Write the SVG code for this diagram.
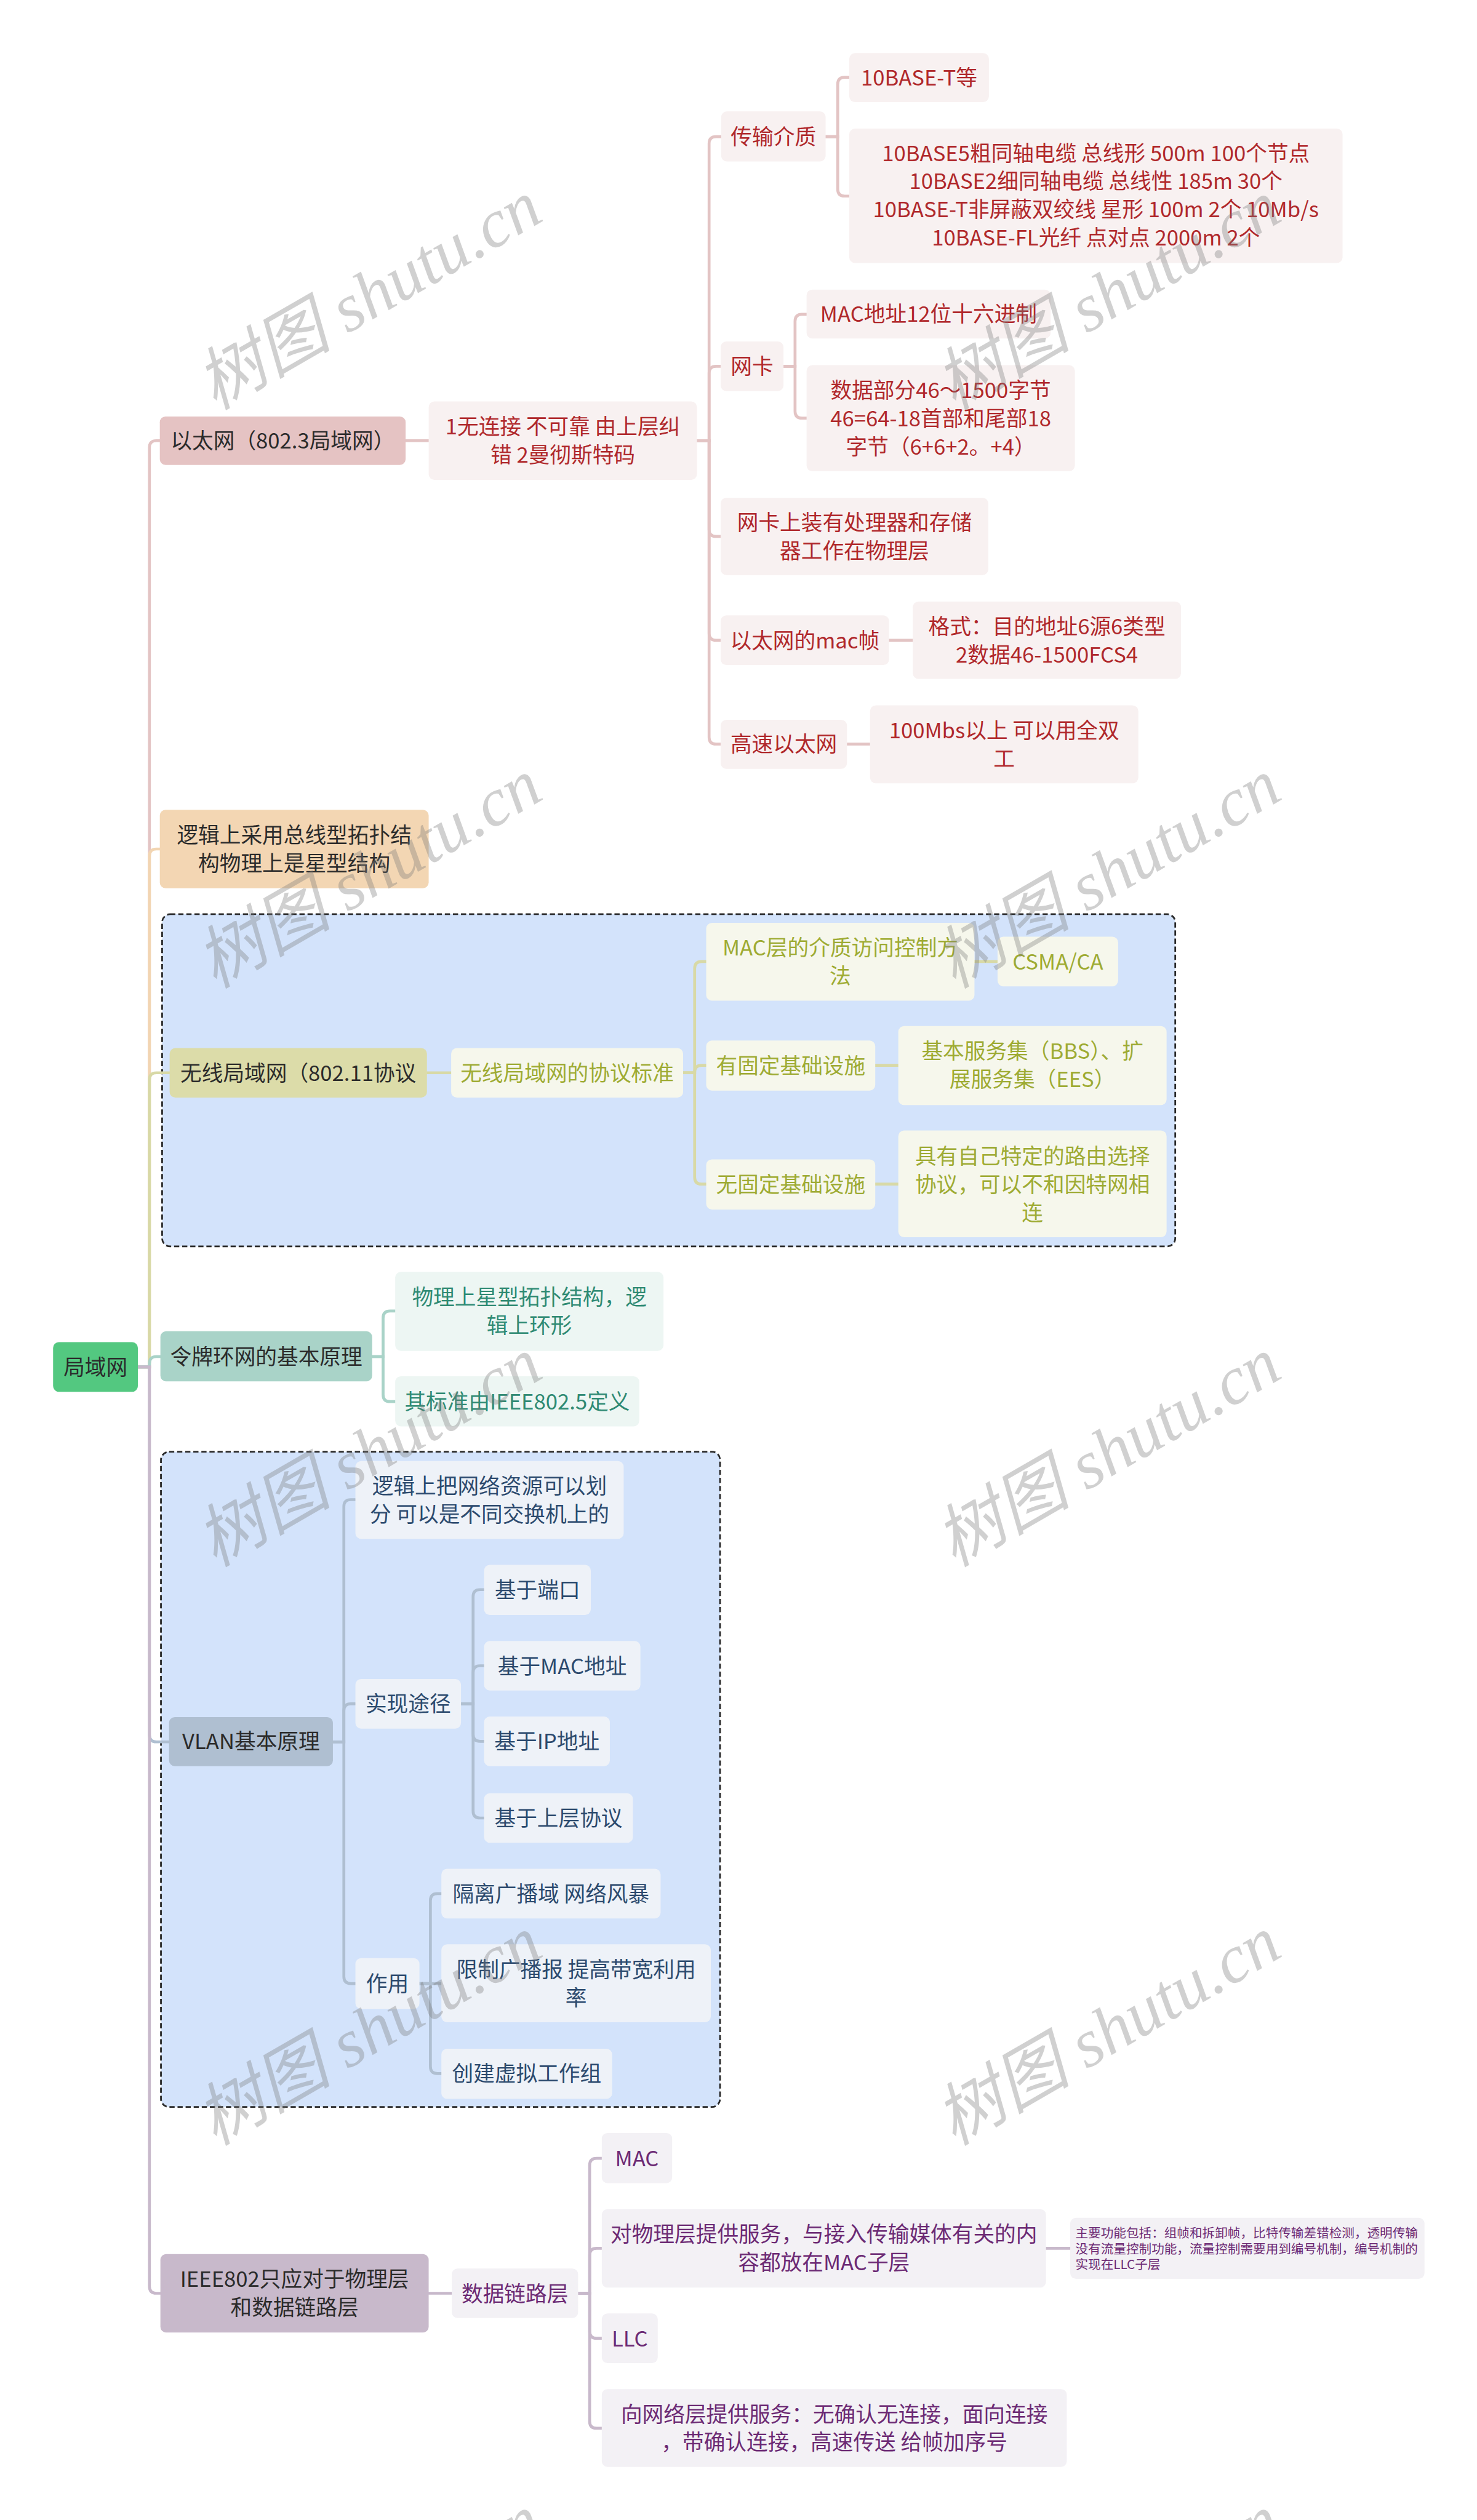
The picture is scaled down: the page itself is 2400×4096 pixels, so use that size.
<svg xmlns="http://www.w3.org/2000/svg" width="2400" height="4096" viewBox="0 0 2400 4096">
<style>
text{font-family:"Noto Sans CJK SC","Noto Sans",sans-serif;font-size:37px;text-anchor:middle}
.c{fill:none;stroke-width:5;stroke-linecap:round}
.l1 text{fill:#2b2b2b}
.eth rect{fill:#f8f1f1}.eth text{fill:#b0282b}
.wl rect{fill:#f6f7ec}.wl text{fill:#9eab33}
.tk rect{fill:#edf6f3}.tk text{fill:#2f8a73}
.vl rect{fill:#eef2f8}.vl text{fill:#2c4a6e}
.ie rect{fill:#f3f1f5}.ie text{fill:#6c2a74}
.dash{fill:#d3e3fb;stroke:#2a2a2a;stroke-width:3;stroke-dasharray:9 5}
.wm{font-family:"Liberation Serif","Noto Sans CJK SC",serif;font-style:italic;font-size:118px;fill:#7a7a7a;opacity:.35}
</style>
<g transform="scale(0.9375)">
<rect x="0" y="0" width="2560" height="4369" fill="#ffffff"/>
<rect class="dash" x="281" y="1585" width="1756" height="576" rx="14"/>
<rect class="dash" x="279" y="2517" width="969" height="1136" rx="14"/>
<g id="connectors">
<path class="c" stroke="#e3c4c4" d="M239 2370H259V776Q259 764 271 764H277"/>
<path class="c" stroke="#f2d5b2" d="M239 2370H259V1484Q259 1472 271 1472H277"/>
<path class="c" stroke="#d8d9a6" d="M239 2370H259V1872Q259 1860 271 1860H294"/>
<path class="c" stroke="#a9d3c8" d="M239 2370H259V2364Q259 2352 271 2352H278"/>
<path class="c" stroke="#afbfd1" d="M239 2370H259V3008Q259 3020 271 3020H293"/>
<path class="c" stroke="#c8b9cb" d="M239 2370H259V3964Q259 3976 271 3976H278"/>
<g stroke="#e3c4c4">
<path class="c" d="M703 764H743"/>
<path class="c" d="M1208 764H1229V249Q1229 237 1241 237H1250"/>
<path class="c" d="M1208 764H1229V647Q1229 635 1241 635H1249"/>
<path class="c" d="M1208 764H1229V918Q1229 930 1241 930H1249"/>
<path class="c" d="M1208 764H1229V1098Q1229 1110 1241 1110H1249"/>
<path class="c" d="M1208 764H1229V1278Q1229 1290 1241 1290H1249"/>
<path class="c" d="M1431 237H1452V146Q1452 134 1464 134H1472"/>
<path class="c" d="M1431 237H1452V328Q1452 340 1464 340H1472"/>
<path class="c" d="M1358 635H1378V557Q1378 545 1390 545H1398"/>
<path class="c" d="M1358 635H1378V713Q1378 725 1390 725H1398"/>
<path class="c" d="M1541 1110H1582"/>
<path class="c" d="M1468 1290H1508"/>
</g>
<g stroke="#d8d9a6">
<path class="c" d="M740 1860H782"/>
<path class="c" d="M1184 1860H1204V1679Q1204 1667 1216 1667H1224"/>
<path class="c" d="M1184 1860H1204V1859Q1204 1847 1216 1847H1224"/>
<path class="c" d="M1184 1860H1204V2041Q1204 2053 1216 2053H1224"/>
<path class="c" d="M1689 1667H1729"/>
<path class="c" d="M1517 1847H1557"/>
<path class="c" d="M1517 2053H1557"/>
</g>
<g stroke="#a9d3c8">
<path class="c" d="M645 2352H664V2285Q664 2273 676 2273H685"/>
<path class="c" d="M645 2352H664V2418Q664 2430 676 2430H685"/>
</g>
<g stroke="#afbfd1">
<path class="c" d="M577 3020H596V2612Q596 2600 608 2600H616"/>
<path class="c" d="M577 3020H596V2966Q596 2954 608 2954H616"/>
<path class="c" d="M577 3020H596V3427Q596 3439 608 3439H616"/>
<path class="c" d="M799 2954H820V2768Q820 2756 832 2756H839"/>
<path class="c" d="M799 2954H820V2900Q820 2888 832 2888H839"/>
<path class="c" d="M799 2954H820V3007Q820 3019 832 3019H839"/>
<path class="c" d="M799 2954H820V3140Q820 3152 832 3152H839"/>
<path class="c" d="M727 3439H746V3295Q746 3283 758 3283H765"/>
<path class="c" d="M727 3439H765"/>
<path class="c" d="M727 3439H746V3583Q746 3595 758 3595H765"/>
</g>
<g stroke="#c8b9cb">
<path class="c" d="M743 3976H783"/>
<path class="c" d="M1002 3976H1022V3754Q1022 3742 1034 3742H1043"/>
<path class="c" d="M1002 3976H1022V3910Q1022 3898 1034 3898H1043"/>
<path class="c" d="M1002 3976H1022V4042Q1022 4054 1034 4054H1043"/>
<path class="c" d="M1002 3976H1022V4198Q1022 4210 1034 4210H1043"/>
<path class="c" d="M1813 3898H1855"/>
</g>
</g>
<g id="root" class="l1"><rect x="92" y="2327" width="147" height="86" rx="10" fill="#53c880"/><text x="165.5" y="2384">局域网</text></g>
<g id="n-eth" class="l1"><rect x="277" y="722" width="426" height="84" rx="10" fill="#e5c3c3"/><text x="490" y="778">以太网（802.3局域网）</text></g>
<g id="n-logic" class="l1"><rect x="277" y="1404" width="466" height="136" rx="10" fill="#f3d6b3"/><text x="510" y="1461">逻辑上采用总线型拓扑结</text><text x="510" y="1510">构物理上是星型结构</text></g>
<g id="n-wl" class="l1"><rect x="294" y="1817" width="446" height="86" rx="10" fill="#dcdca9"/><text x="517" y="1874">无线局域网（802.11协议</text></g>
<g id="n-tk" class="l1"><rect x="278" y="2308" width="367" height="87" rx="10" fill="#a9d3c8"/><text x="461.5" y="2366">令牌环网的基本原理</text></g>
<g id="n-vlan" class="l1"><rect x="293" y="2977" width="284" height="85" rx="10" fill="#afbfd1"/><text x="435" y="3033">VLAN基本原理</text></g>
<g id="n-ieee" class="l1"><rect x="278" y="3908" width="465" height="136" rx="10" fill="#c8b9cb"/><text x="510.5" y="3965">IEEE802只应对于物理层</text><text x="510.5" y="4014">和数据链路层</text></g>
<g class="eth">
<g id="e1"><rect x="743" y="696" width="465" height="136" rx="10"/><text x="975.5" y="753">1无连接 不可靠 由上层纠</text><text x="975.5" y="802">错 2曼彻斯特码</text></g>
<g id="e2"><rect x="1250" y="193" width="181" height="87" rx="10"/><text x="1340.5" y="251">传输介质</text></g>
<g id="e3"><rect x="1472" y="92" width="242" height="85" rx="10"/><text x="1593" y="148">10BASE-T等</text></g>
<g id="e4"><rect x="1472" y="223" width="855" height="233" rx="10"/><text x="1899.5" y="279">10BASE5粗同轴电缆 总线形 500m 100个节点</text><text x="1899.5" y="328">10BASE2细同轴电缆 总线性 185m 30个</text><text x="1899.5" y="377">10BASE-T非屏蔽双绞线 星形 100m 2个 10Mb/s</text><text x="1899.5" y="426">10BASE-FL光纤 点对点 2000m 2个</text></g>
<g id="e5"><rect x="1249" y="592" width="109" height="86" rx="10"/><text x="1303.5" y="649">网卡</text></g>
<g id="e6"><rect x="1398" y="502" width="423" height="85" rx="10"/><text x="1609.5" y="558">MAC地址12位十六进制</text></g>
<g id="e7"><rect x="1398" y="633" width="465" height="184" rx="10"/><text x="1630.5" y="690">数据部分46～1500字节</text><text x="1630.5" y="739"> 46=64-18首部和尾部18</text><text x="1630.5" y="788">字节（6+6+2。+4）</text></g>
<g id="e8"><rect x="1249" y="863" width="464" height="134" rx="10"/><text x="1481" y="920">网卡上装有处理器和存储</text><text x="1481" y="969">器工作在物理层</text></g>
<g id="e9"><rect x="1249" y="1067" width="292" height="86" rx="10"/><text x="1395" y="1124">以太网的mac帧</text></g>
<g id="e10"><rect x="1582" y="1043" width="465" height="134" rx="10"/><text x="1814.5" y="1100">格式：目的地址6源6类型</text><text x="1814.5" y="1149">2数据46-1500FCS4</text></g>
<g id="e11"><rect x="1249" y="1248" width="219" height="85" rx="10"/><text x="1358.5" y="1304">高速以太网</text></g>
<g id="e12"><rect x="1508" y="1223" width="465" height="135" rx="10"/><text x="1740.5" y="1280">100Mbs以上 可以用全双</text><text x="1740.5" y="1329">工</text></g>
</g>
<g class="wl">
<g id="w1"><rect x="782" y="1817" width="402" height="86" rx="10"/><text x="983" y="1874">无线局域网的协议标准</text></g>
<g id="w2"><rect x="1224" y="1600" width="465" height="135" rx="10"/><text x="1456.5" y="1657">MAC层的介质访问控制方</text><text x="1456.5" y="1706">法</text></g>
<g id="w3"><rect x="1729" y="1624" width="209" height="86" rx="10"/><text x="1833.5" y="1681">CSMA/CA</text></g>
<g id="w4"><rect x="1224" y="1804" width="293" height="87" rx="10"/><text x="1370.5" y="1861">有固定基础设施</text></g>
<g id="w5"><rect x="1557" y="1779" width="465" height="137" rx="10"/><text x="1789.5" y="1836">基本服务集（BBS）、扩</text><text x="1789.5" y="1885">展服务集（EES）</text></g>
<g id="w6"><rect x="1224" y="2010" width="293" height="87" rx="10"/><text x="1370.5" y="2067">无固定基础设施</text></g>
<g id="w7"><rect x="1557" y="1960" width="465" height="185" rx="10"/><text x="1789.5" y="2018">具有自己特定的路由选择</text><text x="1789.5" y="2067">协议，可以不和因特网相</text><text x="1789.5" y="2116">连</text></g>
</g>
<g class="tk">
<g id="t1"><rect x="685" y="2205" width="465" height="137" rx="10"/><text x="917.5" y="2262">物理上星型拓扑结构，逻</text><text x="917.5" y="2311">辑上环形</text></g>
<g id="t2"><rect x="685" y="2386" width="423" height="87" rx="10"/><text x="896.5" y="2444">其标准由IEEE802.5定义</text></g>
</g>
<g class="vl">
<g id="v1"><rect x="616" y="2533" width="465" height="135" rx="10"/><text x="848.5" y="2590">逻辑上把网络资源可以划</text><text x="848.5" y="2639">分 可以是不同交换机上的</text></g>
<g id="v2"><rect x="616" y="2911" width="183" height="86" rx="10"/><text x="707.5" y="2968">实现途径</text></g>
<g id="v3"><rect x="839" y="2713" width="185" height="87" rx="10"/><text x="931.5" y="2770">基于端口</text></g>
<g id="v4"><rect x="839" y="2845" width="271" height="86" rx="10"/><text x="974.5" y="2902">基于MAC地址</text></g>
<g id="v5"><rect x="839" y="2976" width="218" height="86" rx="10"/><text x="948" y="3033">基于IP地址</text></g>
<g id="v6"><rect x="839" y="3109" width="258" height="86" rx="10"/><text x="968" y="3166">基于上层协议</text></g>
<g id="v7"><rect x="616" y="3395" width="111" height="88" rx="10"/><text x="671.5" y="3453">作用</text></g>
<g id="v8"><rect x="765" y="3240" width="380" height="86" rx="10"/><text x="955" y="3297">隔离广播域 网络风暴</text></g>
<g id="v9"><rect x="765" y="3371" width="467" height="135" rx="10"/><text x="998.5" y="3428">限制广播报 提高带宽利用</text><text x="998.5" y="3477">率</text></g>
<g id="v10"><rect x="765" y="3552" width="296" height="87" rx="10"/><text x="913" y="3609">创建虚拟工作组</text></g>
</g>
<g class="ie">
<g id="i1"><rect x="783" y="3933" width="219" height="86" rx="10"/><text x="892.5" y="3990">数据链路层</text></g>
<g id="i2"><rect x="1043" y="3698" width="122" height="87" rx="10"/><text x="1104" y="3756">MAC</text></g>
<g id="i3"><rect x="1043" y="3830" width="770" height="136" rx="10"/><text x="1428" y="3887">对物理层提供服务，与接入传输媒体有关的内</text><text x="1428" y="3936">容都放在MAC子层</text></g>
<g id="i4"><rect x="1855" y="3845" width="614" height="106" rx="10"/><text x="1864" y="3880" style="font-size:22px;text-anchor:start">主要功能包括：组帧和拆卸帧，比特传输差错检测，透明传输</text><text x="1864" y="3907" style="font-size:22px;text-anchor:start">没有流量控制功能，流量控制需要用到编号机制，编号机制的</text><text x="1864" y="3934" style="font-size:22px;text-anchor:start">实现在LLC子层</text></g>
<g id="i5"><rect x="1043" y="4011" width="97" height="86" rx="10"/><text x="1091.5" y="4068">LLC</text></g>
<g id="i6"><rect x="1043" y="4142" width="806" height="135" rx="10"/><text x="1446" y="4199">向网络层提供服务：无确认无连接，面向连接</text><text x="1446" y="4248">，带确认连接，高速传送 给帧加序号</text></g>
</g>
<g id="watermarks">
<text class="wm" transform="translate(641 515) rotate(-30)" y="36">树图 shutu.cn</text>
<text class="wm" transform="translate(1922 515) rotate(-30)" y="36">树图 shutu.cn</text>
<text class="wm" transform="translate(641 1518) rotate(-30)" y="36">树图 shutu.cn</text>
<text class="wm" transform="translate(1922 1518) rotate(-30)" y="36">树图 shutu.cn</text>
<text class="wm" transform="translate(641 2521) rotate(-30)" y="36">树图 shutu.cn</text>
<text class="wm" transform="translate(1922 2521) rotate(-30)" y="36">树图 shutu.cn</text>
<text class="wm" transform="translate(641 3524) rotate(-30)" y="36">树图 shutu.cn</text>
<text class="wm" transform="translate(1922 3524) rotate(-30)" y="36">树图 shutu.cn</text>
<text class="wm" transform="translate(641 4527) rotate(-30)" y="36">树图 shutu.cn</text>
<text class="wm" transform="translate(1922 4527) rotate(-30)" y="36">树图 shutu.cn</text>
</g>
</g>
</svg>
